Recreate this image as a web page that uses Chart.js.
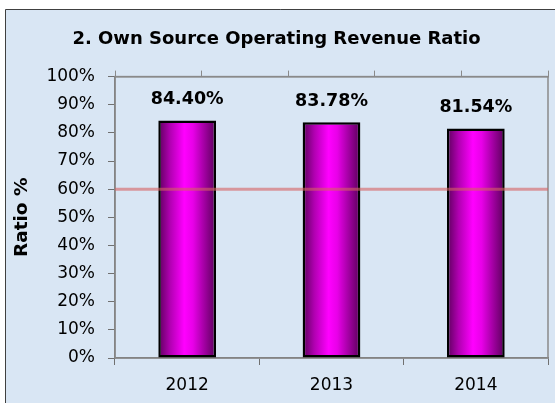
<!DOCTYPE html>
<html>
<head>
<meta charset="utf-8">
<title>Own Source Operating Revenue Ratio</title>
<script src="https://cdn.jsdelivr.net/npm/chart.js@4.4.1/dist/chart.umd.min.js"></script>
<style>
  body { margin: 0; background: #ffffff; }
  canvas { display: block; }
</style>
</head>
<body>
<canvas id="ratio-chart" width="555" height="403"></canvas>
<script>
// Chart data
const years = ["2012", "2013", "2014"]
const ratioValues = [84.40, 83.78, 81.54]
const benchmark = 60
const benchmarkSpan = [0, 5]
const yTicks = [0, 10, 20, 30, 40, 50, 60, 70, 80, 90, 100]

const canvas = document.getElementById("ratio-chart")

// light blue panel behind everything, with the frame on the left and top
const panelBackground = {
  id: "panelBackground",
  beforeDraw(chart) {
    const ctx = chart.ctx
    ctx.save()
    ctx.fillStyle = "#ffffff"
    ctx.fillRect(0, 0, chart.width, chart.height)
    ctx.fillStyle = "#d9e6f4"
    ctx.fillRect(5, 9, chart.width - 5, chart.height - 9)
    ctx.strokeStyle = "#404040"
    ctx.lineWidth = 1
    ctx.beginPath()
    ctx.moveTo(5.5, chart.height)
    ctx.lineTo(5.5, 9.5)
    ctx.lineTo(chart.width, 9.5)
    ctx.stroke()
    ctx.restore()
  }
}

// gray border round the plot area
const plotBorder = {
  id: "plotBorder",
  beforeDatasetsDraw(chart) {
    const a = chart.chartArea
    const ctx = chart.ctx
    ctx.save()
    ctx.strokeStyle = "#8a8a8a"
    ctx.lineWidth = 1.5
    ctx.strokeRect(a.left, a.top, a.right - a.left, a.bottom - a.top)
    ctx.restore()
  }
}

// value labels above each bar
const barLabels = {
  id: "barLabels",
  afterDatasetsDraw(chart) {
    const meta = chart.getDatasetMeta(1)
    const ctx = chart.ctx
    ctx.save()
    ctx.font = "bold 17.5px 'DejaVu Sans'"
    ctx.fillStyle = "#000000"
    ctx.textAlign = "center"
    ctx.textBaseline = "middle"
    meta.data.forEach((bar, i) => {
      ctx.fillText(ratioValues[i].toFixed(2) + "%", bar.x, bar.y - 21)
    })
    ctx.restore()
  }
}

// horizontal shading on the bars
const barFill = (context) => {
  const chart = context.chart
  if (!chart.chartArea || context.type !== "data") return "#ff00ff"
  const xs = chart.scales.x
  const cx = xs.getPixelForValue(context.dataIndex)
  const w = (xs.width / years.length) * 0.4
  const g = chart.ctx.createLinearGradient(cx - w / 2, 0, cx + w / 2, 0)
  g.addColorStop(0, "#5c005c")
  g.addColorStop(0.2, "#b000b0")
  g.addColorStop(0.45, "#ff00ff")
  g.addColorStop(0.6, "#e800e8")
  g.addColorStop(1, "#5a005a")
  return g
}

const myChart = new Chart(canvas, {
  type: "bar",
  plugins: [panelBackground, plotBorder, barLabels],
  data: {
    labels: years,
    datasets: [
      {
        // 60% benchmark line, drawn over the bars
        type: "line",
        label: "Benchmark",
        data: benchmarkSpan.map(x => ({ x: x, y: benchmark })),
        xAxisID: "x2",
        yAxisID: "y",
        borderColor: "rgba(214, 96, 96, 0.6)",
        borderWidth: 3,
        pointRadius: 0,
        order: 0
      },
      {
        label: "Ratio %",
        data: ratioValues,
        xAxisID: "x",
        yAxisID: "y",
        backgroundColor: barFill,
        borderColor: "#000000",
        borderWidth: 2.5,
        borderSkipped: false,
        grouped: false,
        barPercentage: 0.4,
        categoryPercentage: 1.0,
        order: 1
      }
    ]
  },
  options: {
    responsive: false,
    animation: false,
    layout: { padding: { left: 5, right: 7, top: 0, bottom: 0 } },
    plugins: {
      legend: { display: false },
      tooltip: { enabled: false },
      title: {
        display: true,
        text: "2. Own Source Operating Revenue Ratio",
        color: "#000000",
        font: { family: "'DejaVu Sans'", size: 18, weight: "bold", lineHeight: 1.2 },
        padding: { top: 29, bottom: 20 }
      }
    },
    scales: {
      x: {
        type: "category",
        position: "bottom",
        offset: true,
        grid: { display: true, drawOnChartArea: false, tickLength: 7, color: "#707070", offset: true },
        border: { color: "#707070", width: 1.5 },
        ticks: {
          color: "#000000",
          padding: 10,
          maxRotation: 0,
          font: { family: "'DejaVu Sans'", size: 17 }
        },
        afterFit(scale) { scale.height = 45 }
      },
      x2: {
        type: "linear",
        position: "top",
        offset: false,
        min: 0,
        max: 5,
        grid: { display: true, drawOnChartArea: false, tickLength: 6, color: "#8a8a8a", offset: false },
        border: { color: "#8a8a8a", width: 1.5 },
        ticks: { display: false, stepSize: 1 },
        afterFit(scale) { scale.height = 6 }
      },
      y: {
        min: 0,
        max: 100,
        afterBuildTicks(scale) {
          scale.ticks = yTicks.map(v => ({ value: v }))
        },
        grid: { display: true, drawOnChartArea: false, tickLength: 7, color: "#707070" },
        border: { color: "#707070", width: 1.5 },
        ticks: {
          color: "#000000",
          padding: 13,
          font: { family: "'DejaVu Sans'", size: 17 },
          callback: (v) => v + "%"
        },
        title: {
          display: true,
          text: "Ratio %",
          color: "#000000",
          font: { family: "'DejaVu Sans'", size: 18.5, weight: "bold", lineHeight: 1.2 },
          padding: { top: 6, bottom: 0 }
        },
        afterFit(scale) { scale.width = 110 }
      }
    }
  }
})
</script>
</body>
</html>
